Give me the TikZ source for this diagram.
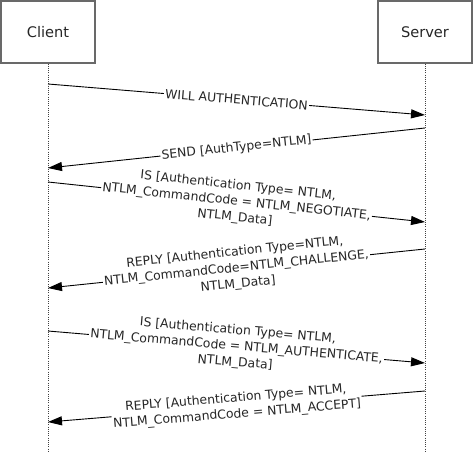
\documentclass[tikz,border=0pt]{standalone}
\usepackage{fontspec}
\setmainfont{DejaVu Sans}
\usetikzlibrary{arrows.meta}
\begin{document}
\begin{tikzpicture}[x=1bp,y=-1bp,
  actor/.style={draw={rgb,255:red,105;green,105;blue,105}, line width=1.3bp, fill=white,
    minimum width=94bp, minimum height=62bp, inner sep=0pt,
    font=\fontsize{14.6bp}{17bp}\selectfont, text=black!85},
  lifeline/.style={draw=black!75, line width=0.9bp, dash pattern=on 1bp off 1.2bp},
  msg/.style={draw=black, line width=0.9bp, -{Triangle[length=14bp,width=9bp]}},
  lab/.style={midway, sloped, fill=white, inner sep=1.2bp, align=center,
    font=\fontsize{12.4bp}{16bp}\selectfont, text=black!85}]
\useasboundingbox (0,0) rectangle (474,452);
\node[actor] (client) at (48,32) {Client};
\node[actor] (server) at (425,32) {Server};
\coordinate (cend) at (48,452);
\coordinate (send) at (425,452);
\draw[lifeline] (client.south) -- (cend);
\draw[lifeline] (server.south) -- (send);
% message end points
\coordinate (c1) at (48,84);  \coordinate (s1) at (425,115);
\coordinate (s2) at (425,128); \coordinate (c2) at (48,168);
\coordinate (c3) at (48,182); \coordinate (s3) at (425,222);
\coordinate (s4) at (425,249); \coordinate (c4) at (48,288);
\coordinate (c5) at (48,331); \coordinate (s5) at (425,363);
\coordinate (s6) at (425,391); \coordinate (c6) at (48,422);
\draw[msg] (c1) -- node[lab] {WILL AUTHENTICATION} (s1);
\draw[msg] (s2) -- node[lab] {SEND [AuthType=NTLM]} (c2);
\draw[msg] (c3) -- node[lab] {IS [Authentication Type= NTLM,\\NTLM\_CommandCode = NTLM\_NEGOTIATE,\\NTLM\_Data]} (s3);
\draw[msg] (s4) -- node[lab] {REPLY [Authentication Type=NTLM,\\NTLM\_CommandCode=NTLM\_CHALLENGE,\\NTLM\_Data]} (c4);
\draw[msg] (c5) -- node[lab] {IS [Authentication Type= NTLM,\\NTLM\_CommandCode = NTLM\_AUTHENTICATE,\\NTLM\_Data]} (s5);
\draw[msg] (s6) -- node[lab] {REPLY [Authentication Type= NTLM,\\NTLM\_CommandCode = NTLM\_ACCEPT]} (c6);
\end{tikzpicture}
\end{document}
